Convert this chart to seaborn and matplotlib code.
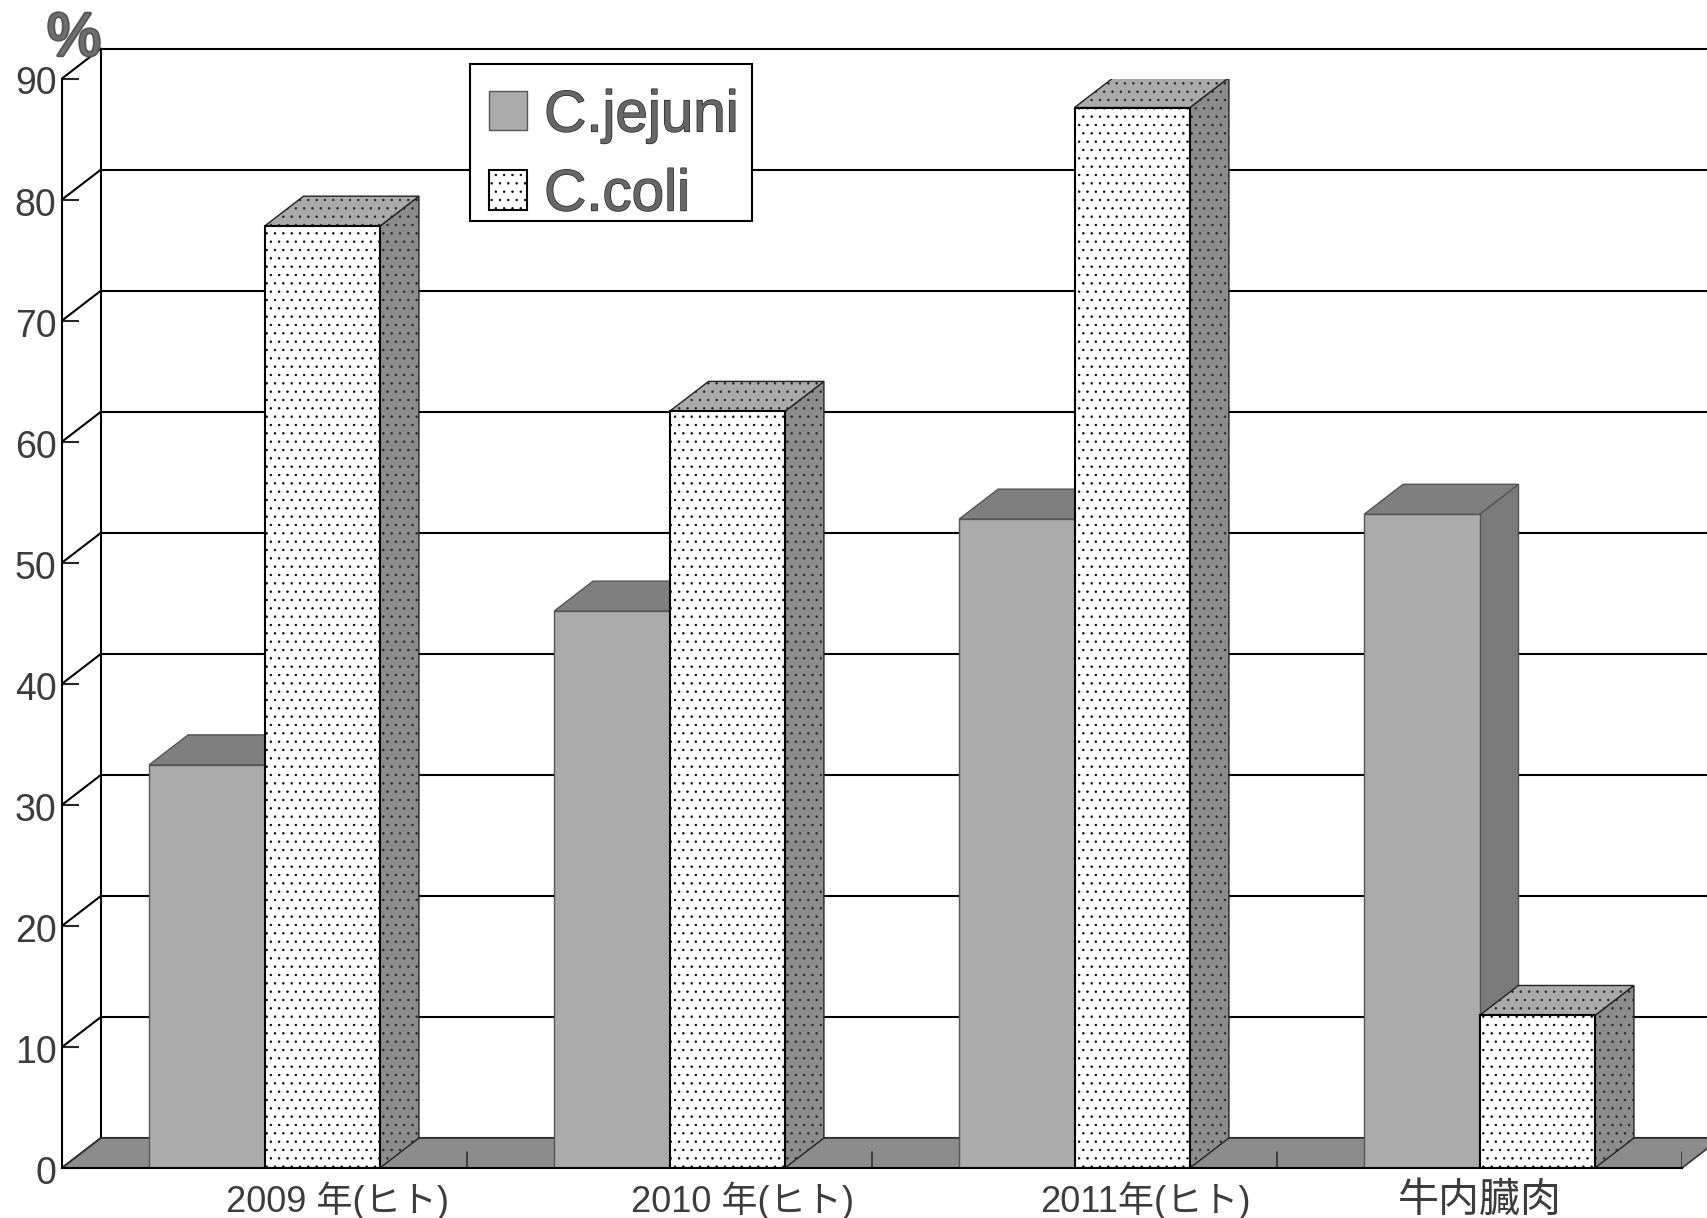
import pandas as pd
import seaborn as sns
import matplotlib.pyplot as plt
import matplotlib.patheffects as pe
from matplotlib.patches import Polygon, Rectangle
from matplotlib.transforms import ScaledTranslation

# data
groups = ['2009年(ヒト)', '2010年(ヒト)', '2011年(ヒト)', '牛内臓肉']
xlabels = ['2009 年(ヒト)', '2010 年(ヒト)', '2011年(ヒト)', '牛内臓肉']
jejuni = [33.3, 46.0, 53.6, 54.0]
coli = [77.8, 62.5, 87.6, 12.6]
yticks = [0, 10, 20, 30, 40, 50, 60, 70, 80, 90]

df = pd.DataFrame({'group': groups * 2,
                   'pct': jejuni + coli,
                   'species': ['C.jejuni'] * 4 + ['C.coli'] * 4})

sns.set_style('white')
plt.rcParams['font.family'] = ['Liberation Sans', 'Noto Sans CJK JP', 'DejaVu Sans']
plt.rcParams['hatch.linewidth'] = 0.5

LW = 1.5
INK = '#3c3c3c'
outline = [pe.withStroke(linewidth=1.0, foreground='#222222')]

fig = plt.figure(figsize=(17.07, 12.18), dpi=100)
ax = fig.add_axes([62 / 1707, 50 / 1218, 1620 / 1707, 1089.5 / 1218])

sns.barplot(data=df, x='group', y='pct', hue='species', width=0.57, gap=0,
            palette=['#ababab', '#ffffff'], saturation=1, legend=False, ax=ax)
ax.set_xlim(-0.5, 3.5)
ax.set_ylim(0, 90)
ax.set_xlabel('')
ax.set_ylabel('')

# depth of the fake 3d, pixels to data units
dx = 39 * 4 / 1620
dy = 30 * 90 / 1089.5

# back wall, floor and the diagonals
for t in yticks:
    ax.plot([-0.5 + dx, 3.5 + dx], [t + dy, t + dy], color='black', lw=LW, zorder=1, clip_on=False)
    ax.plot([-0.5, -0.5 + dx], [t, t + dy], color='black', lw=LW, zorder=1, clip_on=False)
ax.plot([-0.5 + dx, -0.5 + dx], [dy, 90 + dy], color='black', lw=LW, zorder=1, clip_on=False)
ax.add_patch(Polygon([(-0.5, 0), (3.5, 0), (3.5 + dx, dy), (-0.5 + dx, dy)], closed=True,
                     facecolor='#8c8c8c', edgecolor='#333333', lw=1.2, zorder=1.5, clip_on=False))
for b in [0.5, 1.5, 2.5, 3.5]:
    ax.plot([b, b], [0, dy * 0.55], color='#333333', lw=1.2, zorder=1.6)

# side and top faces from the bars seaborn drew
face_colors = [('#7f7f7f', '#7a7a7a', None, '#555555'), ('#aaaaaa', '#8c8c8c', '..', '#222222')]
for k, bars in enumerate(ax.containers):
    top_col, side_col, hatch, edge = face_colors[k]
    for bar in bars:
        x0, w, h = bar.get_x(), bar.get_width(), bar.get_height()
        top = Polygon([(x0, h), (x0 + w, h), (x0 + w + dx, h + dy), (x0 + dx, h + dy)], closed=True,
                      facecolor=top_col, edgecolor=edge, lw=1.0, hatch=hatch, zorder=3 + 2 * k)
        side = Polygon([(x0 + w, 0), (x0 + w + dx, dy), (x0 + w + dx, h + dy), (x0 + w, h)], closed=True,
                       facecolor=side_col, edgecolor=edge, lw=1.0, hatch=hatch, zorder=3 + 2 * k)
        ax.add_patch(side)
        ax.add_patch(top)
        bar.set_edgecolor(edge if k == 0 else 'black')
        bar.set_linewidth(1.0 if k == 0 else LW)
        bar.set_zorder(4 + 2 * k)
        if hatch:
            bar.set_hatch(hatch)

# axes and ticks
sns.despine(ax=ax, top=True, right=True)
for side in ['left', 'bottom']:
    ax.spines[side].set_linewidth(LW)
    ax.spines[side].set_color('black')
    ax.spines[side].set_zorder(8)
ax.set_yticks(yticks)
ax.tick_params(axis='y', direction='in', length=12, width=LW, pad=4, labelsize=27,
               labelcolor=INK, left=True)
nudge = ScaledTranslation(0, -2 / 100, fig.dpi_scale_trans)
for lab in ax.get_yticklabels():
    lab.set_transform(lab.get_transform() + nudge)

# labels sit to the right of the group centre except the last one
label_shift = [0.18, 0.18, 0.175, 0]
ax.set_xticks([i + s for i, s in enumerate(label_shift)])
ax.set_xticklabels(xlabels, fontsize=26, color=INK)
ax.get_xticklabels()[3].set_fontsize(29.5)
ax.tick_params(axis='x', length=0, pad=10)

# legend box drawn apart, the content is not centred in it in the original
ax.add_patch(Rectangle((0.2519, 0.8692), 0.174, 0.1441, transform=ax.transAxes, facecolor='white',
                       edgecolor='black', lw=LW, zorder=9, clip_on=False))
leg = ax.legend(handles=[c[0] for c in ax.containers], labels=['C.jejuni', 'C.coli'],
                loc='upper left', bbox_to_anchor=(0.2636, 0.990), borderaxespad=0, borderpad=0,
                fontsize=42, frameon=False, handlelength=0.655, handleheight=0.655,
                handletextpad=0.29, labelspacing=0.43)
leg.set_zorder(10)
for txt in leg.get_texts():
    txt.set_color('#666666')
    txt.set_path_effects(outline)

fig.text(74 / 1707, 1 - 40 / 1218, '%', fontsize=44, color='#6e6e6e',
         ha='center', va='center',
         path_effects=[pe.withStroke(linewidth=2.5, foreground='#555555')])

fig.savefig('out.png', dpi=100)
